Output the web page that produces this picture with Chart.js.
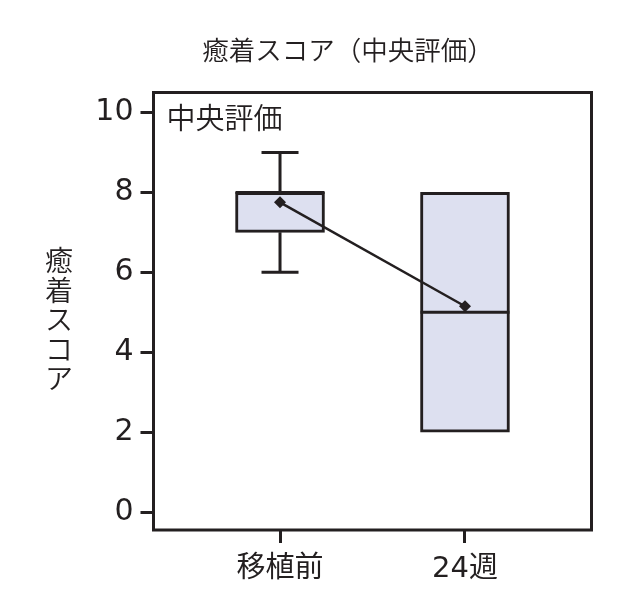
<!DOCTYPE html>
<html><head><meta charset="utf-8">
<script src="https://cdn.jsdelivr.net/npm/chart.js@4"></script>
<style>html,body{margin:0;padding:0;background:#fff}#wrap{width:640px;height:600px}</style>
</head><body><div id="wrap"><canvas id="c" width="640" height="600"></canvas></div>
<script>
// ---- data ----
const categories = ['移植前', '24週'];
const whiskerLow = [6, 2];
const q1 = [7, 2];
const median = [8, 5];
const q3 = [8, 8];
const whiskerHigh = [9, 8];
const means = [7.75, 5.15];
const yTicks = [0, 2, 4, 6, 8, 10];
const chartTitle = '癒着スコア（中央評価）';
const yTitle = '癒着スコア';
const panelLabel = '中央評価';

// ---- styles ----
const INK = '#231f20';
const FILL = '#dde0f0';
const CJK = "'Noto Sans CJK JP', sans-serif";
const NUM = "'DejaVu Sans', 'Noto Sans CJK JP', sans-serif";
const BOX_W = 89;
const CAP_HALF = 18.5;
const LW = 3;

const extras = {
  id: 'extras',
  afterDatasetDraw(chart, args) {
    if (args.index !== 0) return;
    const ctx = chart.ctx, x = chart.scales.x, y = chart.scales.y;
    ctx.save();
    ctx.strokeStyle = INK; ctx.lineWidth = LW; ctx.lineCap = 'butt';
    categories.forEach((c, i) => {
      const cx = x.getPixelForValue(i);
      ctx.beginPath();
      if (whiskerHigh[i] > q3[i]) {
        ctx.moveTo(cx, y.getPixelForValue(q3[i])); ctx.lineTo(cx, y.getPixelForValue(whiskerHigh[i]));
        ctx.moveTo(cx - CAP_HALF, y.getPixelForValue(whiskerHigh[i])); ctx.lineTo(cx + CAP_HALF, y.getPixelForValue(whiskerHigh[i]));
      }
      if (whiskerLow[i] < q1[i]) {
        ctx.moveTo(cx, y.getPixelForValue(q1[i])); ctx.lineTo(cx, y.getPixelForValue(whiskerLow[i]));
        ctx.moveTo(cx - CAP_HALF, y.getPixelForValue(whiskerLow[i])); ctx.lineTo(cx + CAP_HALF, y.getPixelForValue(whiskerLow[i]));
      }
      const my = y.getPixelForValue(median[i]);
      ctx.moveTo(cx - BOX_W / 2, my); ctx.lineTo(cx + BOX_W / 2, my);
      ctx.stroke();
    });
    ctx.restore();
  },
  afterDraw(chart) {
    const ctx = chart.ctx, a = chart.chartArea;
    ctx.save();
    ctx.strokeStyle = INK; ctx.lineWidth = LW;
    ctx.strokeRect(a.left, a.top, a.right - a.left, a.bottom - a.top);
    ctx.fillStyle = INK;
    // title
    ctx.font = '350 26.5px ' + CJK;
    ctx.textAlign = 'center'; ctx.textBaseline = 'middle';
    ctx.fillText(chartTitle, 348, 50);
    // vertical y title
    ctx.font = '350 28px ' + CJK;
    const chars = Array.from(yTitle);
    const mid = (a.top + a.bottom) / 2 + 8.5;
    chars.forEach((ch, k) => {
      ctx.fillText(ch, 59, mid + (k - (chars.length - 1) / 2) * 29.5);
    });
    // panel label
    ctx.font = '350 29px ' + CJK;
    ctx.textAlign = 'left';
    ctx.fillText(panelLabel, a.left + 13, a.top + 25);
    ctx.restore();
  }
};

new Chart(document.getElementById('c'), {
  data: {
    datasets: [
      {
        type: 'bar',
        data: categories.map((c, i) => ({ x: i, y: [q1[i], q3[i]] })),
        backgroundColor: FILL,
        borderColor: INK,
        borderWidth: LW,
        borderSkipped: false,
        barThickness: BOX_W,
        order: 2
      },
      {
        type: 'line',
        data: means.map((m, i) => ({ x: i, y: m })),
        borderColor: INK,
        borderWidth: 2.5,
        pointStyle: 'rectRot',
        pointRadius: 6,
        pointBackgroundColor: INK,
        pointBorderWidth: 0,
        order: 1
      }
    ]
  },
  options: {
    responsive: false,
    animation: false,
    events: [],
    layout: { padding: { top: 92.5, right: 48.5, left: 0, bottom: 0 } },
    plugins: { legend: { display: false }, tooltip: { enabled: false }, title: { display: false } },
    scales: {
      x: {
        type: 'linear',
        offset: false,
        min: -0.684, max: 1.684,
        afterBuildTicks: s => { s.ticks = categories.map((c, i) => ({ value: i })); },
        afterFit: s => { s.height = 70; },
        border: { display: false },
        grid: { display: true, offset: false, drawOnChartArea: false, drawTicks: true, tickLength: 13, color: INK, lineWidth: LW },
        ticks: { color: INK, font: { family: NUM, size: 29 }, padding: 9, maxRotation: 0, callback: v => categories[v] }
      },
      y: {
        type: 'linear',
        min: -0.45, max: 10.5,
        afterBuildTicks: s => { s.ticks = yTicks.map(v => ({ value: v })); },
        afterFit: s => { s.width = 153.5; },
        border: { display: false },
        grid: { display: true, drawOnChartArea: false, drawTicks: true, tickLength: 13, color: INK, lineWidth: LW },
        ticks: { color: INK, font: { family: NUM, size: 30 }, padding: 7 }
      }
    }
  },
  plugins: [extras]
});
</script>
</body></html>
